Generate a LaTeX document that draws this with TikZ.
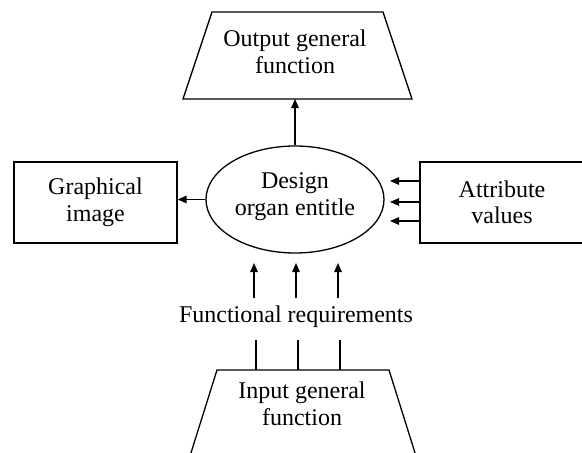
\documentclass[tikz,border=0pt]{standalone}
\usepackage{fontspec}
\setmainfont{Liberation Serif}
\usetikzlibrary{arrows.meta,shapes.geometric}
\begin{document}
\begin{tikzpicture}[x=1pt,y=-1pt,
  every node/.style={font=\fontsize{24}{26.5}\selectfont, align=center, inner sep=0pt},
  outline/.style={line width=1.3pt, line join=miter},
  arr/.style={line width=1.3pt, -{Triangle[length=9pt,width=7.5pt]}},
  plain/.style={line width=1.3pt},
  boxnode/.style={draw, line width=1.3pt, rectangle, minimum width=163pt, minimum height=81pt},
  ellnode/.style={draw, line width=1.3pt, ellipse, minimum width=178pt, minimum height=107pt}]
\useasboundingbox (0,0) rectangle (582,453);

% output general function (trapezium, wide at the bottom)
\coordinate (otl) at (212,12);
\coordinate (otr) at (383,12);
\coordinate (obr) at (412,99);
\coordinate (obl) at (183,99);
\draw[outline] (otl) -- (otr) -- (obr) -- (obl) -- cycle;
\node (out) at (295,52) {Output general\\function};
\coordinate (obase) at (295,99);

% central design organ
\node[ellnode] (ell) at (295,199.5) {};
\node (elltext) at (295,196.5) {Design\\organ entitle};

% side boxes
\node[boxnode] (gr) at (95.5,202.5) {Graphical\\image};
\node[boxnode, minimum width=164pt] (attr) at (502,202.5) {Attribute\\values};

% functional requirements label
\node (req) at (296,317) {Functional requirements};

% input general function (trapezium, narrow at the top, running off the page)
\coordinate (itl) at (217,370);
\coordinate (itr) at (389,370);
\coordinate (ibr) at (416,456);
\coordinate (ibl) at (190,456);
\draw[outline] (ibl) -- (itl) -- (itr) -- (ibr);
\node (in) at (302,404) {Input general\\function};

% connectors
\draw[arr] (ell.north) -- (obase);
\draw[arr] (ell.west) -- (ell.west -| gr.east);
\foreach \yy [count=\i] in {181,202,221} {
  \coordinate (av\i) at (390,\yy);
  \draw[arr] (attr.west |- av\i) -- (av\i);
}
\foreach \xx [count=\i] in {254,296,338} {
  \coordinate (ra\i) at (\xx,298);
  \coordinate (rb\i) at (\xx,263);
  \draw[arr] (ra\i) -- (rb\i);
}
\foreach \xx [count=\i] in {256,298,340} {
  \coordinate (la\i) at (\xx,370);
  \coordinate (lb\i) at (\xx,340);
  \draw[plain] (la\i) -- (lb\i);
}
\end{tikzpicture}
\end{document}
